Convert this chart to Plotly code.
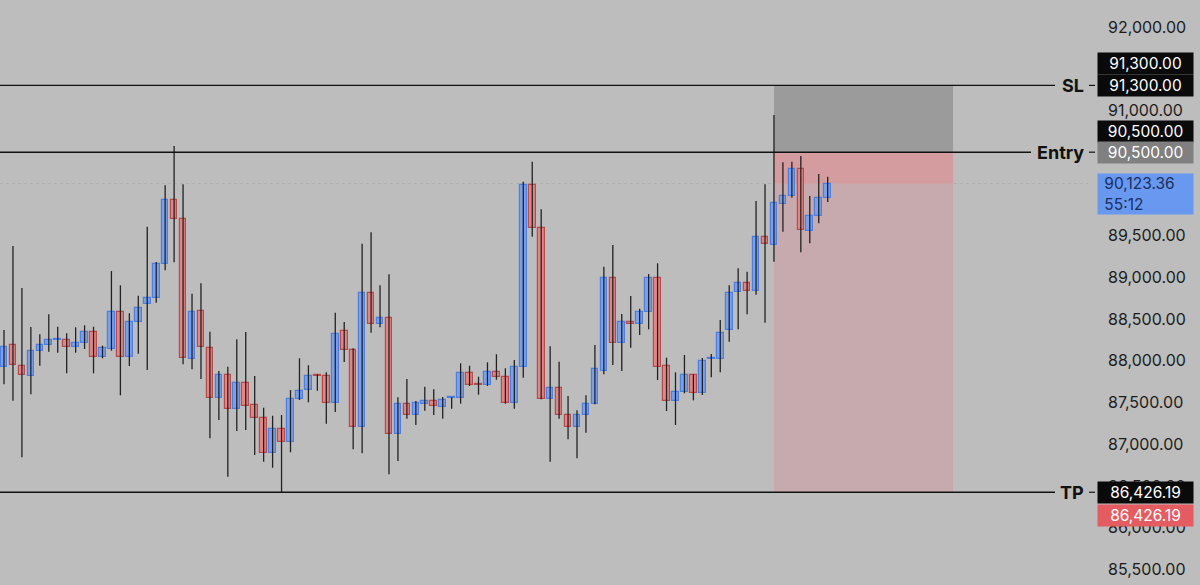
import plotly.graph_objects as go

# ---- data ----
opens = [87930, 88190, 87942, 87822, 88114, 88194, 88250, 88250, 88162, 88217,
         88342, 88050, 88142, 88582, 88050, 88465, 88678, 88757, 89157, 89923,
         89703, 88026, 88594, 88150, 87551, 87830, 87427, 87731, 87471, 87319,
         86892, 87180, 87031, 87543, 87651, 87830, 87815, 87499, 88361, 88130,
         87204, 88813, 88445, 88510, 87120, 87480, 87348, 87480, 87519, 87451,
         87551, 87551, 87851, 87723, 87711, 87863, 87810, 87492, 87930, 90107,
         89595, 87547, 87671, 87348, 87211, 87351, 87483, 87882, 88996, 88210,
         88465, 88438, 88589, 88996, 87942, 87523, 87630, 87827, 87611, 88019,
         88019, 88370, 88825, 88933, 88840, 89487, 89384, 89883, 89979, 90298,
         89552, 89739, 89947]
highs = [88370, 89376, 88873, 88406, 88318, 88558, 88409, 88330, 88402, 88426,
         88409, 88182, 89076, 88905, 88570, 88781, 89607, 89184, 90103, 90574,
         90115, 88805, 88929, 88349, 87878, 87930, 88258, 88346, 87818, 87439,
         87343, 87351, 87651, 88031, 87947, 87839, 87863, 88577, 88465, 88150,
         89403, 89540, 88905, 89037, 87563, 87783, 87519, 87690, 87659, 87567,
         87563, 87971, 87942, 87810, 87983, 88079, 87911, 88010, 90146, 90386,
         89816, 88174, 87990, 87579, 87408, 87587, 88190, 89128, 89388, 88561,
         88777, 88625, 89040, 89169, 88038, 87863, 88070, 87839, 88034, 88082,
         88489, 88905, 89109, 89068, 89915, 90115, 90945, 90379, 90386, 90454,
         89975, 90238, 90206]
lows = [87720, 87523, 86845, 87599, 87942, 88110, 88098, 87851, 88098, 88142,
        87851, 88031, 88122, 87587, 87938, 88086, 87890, 88697, 89085, 89181,
        87959, 87899, 87783, 87072, 87291, 86612, 87160, 87172, 86872, 86792,
        86720, 86420, 86905, 87531, 87503, 87642, 87247, 87387, 87986, 86940,
        86892, 88337, 88402, 86641, 86800, 87307, 87232, 87403, 87351, 87307,
        87427, 87487, 87699, 87595, 87699, 87774, 87487, 87427, 87798, 89487,
        87539, 86792, 87307, 87060, 86833, 87139, 87480, 87839, 87950, 87878,
        88158, 88310, 88378, 87771, 87399, 87232, 87611, 87527, 87591, 87803,
        87863, 88229, 88378, 88558, 88792, 88457, 89188, 89547, 89955, 89300,
        89408, 89648, 89903]
closes = [88170, 87950, 87827, 88114, 88190, 88250, 88262, 88162, 88217, 88342,
          88050, 88150, 88582, 88050, 88465, 88637, 88749, 89157, 89923, 89703,
          88038, 88582, 88170, 87551, 87830, 87427, 87731, 87463, 87319, 86892,
          87187, 87031, 87543, 87642, 87815, 87815, 87499, 88318, 88130, 87204,
          88813, 88438, 88510, 87120, 87480, 87348, 87492, 87519, 87459, 87527,
          87563, 87851, 87711, 87711, 87863, 87810, 87492, 87923, 90107, 89595,
          87547, 87671, 87348, 87211, 87351, 87483, 87899, 88989, 88210, 88462,
          88438, 88589, 88996, 87930, 87523, 87630, 87827, 87619, 88002, 88031,
          88337, 88813, 88933, 88840, 89487, 89403, 89888, 89979, 90298, 89568,
          89735, 89947, 90123.36]

stop_loss = 91300.00
entry = 90500.00
take_profit = 86426.19
last_price = 90123.36
countdown = "55:12"
trade_start = 86      # index of the bar where the position starts
trade_end = 106       # right end of the position box (bar index)
y_ticks = [85500 + 500 * k for k in range(14)]

# ---- style ----
BG = "#bdbdbd"
BLUE_FILL, BLUE_LINE = "#7ba0ea", "#4d7fe2"
RED_FILL, RED_LINE = "#e08686", "#b84a4a"
WICK = "#222222"
FONT = "Inter, 'Liberation Sans', Arial, sans-serif"

W_PX, H_PX = 1200, 585
R_MARGIN = 103
PLOT_W = W_PX - R_MARGIN
X_RANGE = [-0.447, 122.08]
Y_RANGE = [85315, 92323]

n = len(closes)
xs = list(range(n))

fig = go.Figure()

# wicks
wx, wy = [], []
for i in xs:
    wx += [i, i, None]
    wy += [lows[i], highs[i], None]
fig.add_trace(go.Scatter(x=wx, y=wy, mode="lines",
                         line=dict(color=WICK, width=1.3),
                         hoverinfo="skip", showlegend=False))

# bodies
up = [c >= o for o, c in zip(opens, closes)]
fig.add_trace(go.Bar(
    x=xs,
    base=[min(o, c) for o, c in zip(opens, closes)],
    y=[abs(c - o) for o, c in zip(opens, closes)],
    width=0.74,
    marker=dict(color=[BLUE_FILL if u else RED_FILL for u in up],
                line=dict(color=[BLUE_LINE if u else RED_LINE for u in up], width=1.2)),
    hoverinfo="skip", showlegend=False))

shapes = []
# position boxes
shapes.append(dict(type="rect", xref="x", yref="y", x0=trade_start, x1=trade_end,
                   y0=entry, y1=stop_loss, fillcolor="#9b9b9b", line_width=0, layer="below"))
shapes.append(dict(type="rect", xref="x", yref="y", x0=trade_start, x1=trade_end,
                   y0=take_profit, y1=entry, fillcolor="#c6aaad", line_width=0, layer="below"))
shapes.append(dict(type="rect", xref="x", yref="y", x0=trade_start, x1=trade_end,
                   y0=last_price, y1=entry, fillcolor="#d49c9e", line_width=0, layer="below"))
# current price dotted line
shapes.append(dict(type="line", xref="paper", yref="y", x0=0, x1=1088 / PLOT_W,
                   y0=last_price, y1=last_price,
                   line=dict(color="#adadad", width=1, dash="dot"), layer="below"))
# level lines
for lvl, xend in [(stop_loss, 1055), (entry, 1031), (take_profit, 1055)]:
    shapes.append(dict(type="line", xref="paper", yref="y", x0=0, x1=xend / PLOT_W,
                       y0=lvl, y1=lvl, line=dict(color="#111111", width=1.4)))
    shapes.append(dict(type="line", xref="paper", yref="y", x0=1089 / PLOT_W, x1=1095 / PLOT_W,
                       y0=lvl, y1=lvl, line=dict(color="#111111", width=1.2)))

annotations = []
for lvl, name in [(stop_loss, "SL"), (entry, "Entry"), (take_profit, "TP")]:
    annotations.append(dict(xref="paper", yref="y", x=1086 / PLOT_W, y=lvl,
                            xanchor="right", yanchor="middle", showarrow=False,
                            text=f"<b>{name}</b>",
                            font=dict(family=FONT, size=18, color="#111111")))


def price_box(val, text, bg, fg, yshift=0, h=17, align="center"):
    annotations.append(dict(xref="paper", yref="y", x=1, y=val, xanchor="left",
                            yanchor="middle", showarrow=False, text=text,
                            bgcolor=bg, font=dict(family=FONT, size=15.5, color=fg),
                            width=91, height=h, borderpad=2, align=align, yshift=yshift))


fmt = lambda v: f"{v:,.2f}"
price_box(stop_loss, fmt(stop_loss), "#0a0a0a", "#ffffff", yshift=22)
price_box(stop_loss, fmt(stop_loss), "#0a0a0a", "#ffffff")
price_box(entry, fmt(entry), "#0a0a0a", "#ffffff", yshift=21)
price_box(entry, fmt(entry), "#808080", "#ffffff")
price_box(last_price, f"&nbsp;{fmt(last_price)}<br>&nbsp;{countdown}", "#6898ef", "#1b2f5c",
          yshift=-10, h=36, align="left")
price_box(take_profit, fmt(take_profit), "#0a0a0a", "#ffffff")
price_box(take_profit, fmt(take_profit), "#e35c62", "#ffffff", yshift=-23)

fig.update_layout(
    width=W_PX, height=H_PX,
    paper_bgcolor=BG, plot_bgcolor=BG,
    margin=dict(l=0, r=R_MARGIN, t=0, b=0),
    showlegend=False, bargap=0,
    shapes=shapes, annotations=annotations,
    xaxis=dict(range=X_RANGE, visible=False, fixedrange=True),
    yaxis=dict(range=Y_RANGE, side="right", tickmode="array", tickvals=y_ticks,
               ticktext=[fmt(v) for v in y_ticks],
               showgrid=False, zeroline=False,
               ticks="", ticklabelstandoff=10,
               tickfont=dict(family=FONT, size=16, color="#1c1c1c"), fixedrange=True),
    font=dict(family=FONT),
)

fig.write_html("out.html", config={"displayModeBar": False},
               post_script="document.body.style.margin='0';document.body.style.background='#bdbdbd';")
